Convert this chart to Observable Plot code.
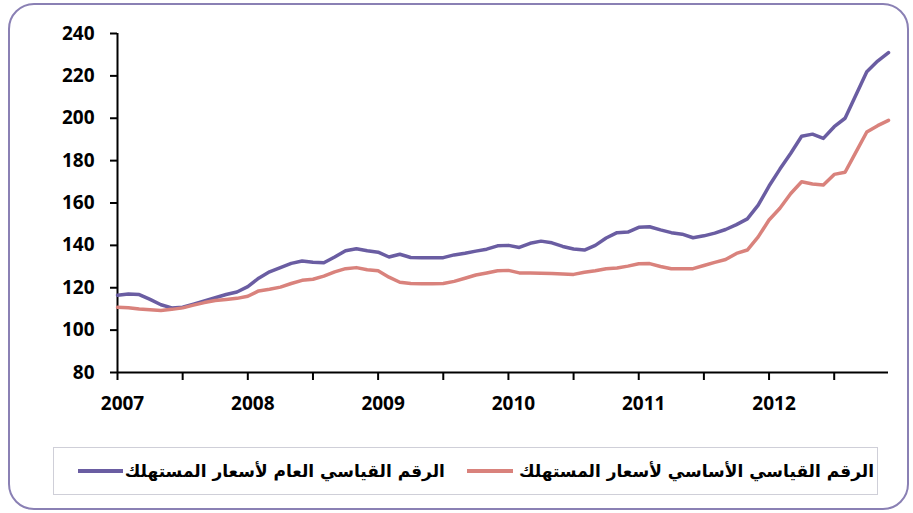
<!DOCTYPE html>
<html>
<head>
<meta charset="utf-8">
<script src="https://cdn.jsdelivr.net/npm/d3@7"></script>
<script src="https://cdn.jsdelivr.net/npm/@observablehq/plot@0.6"></script>
<style>
  html, body { margin: 0; padding: 0; background: #fff; }
  #frame { position: absolute; left: 8px; top: 3px; width: 901px; height: 507px; box-sizing: border-box;
           border: 2.5px solid #8a80b4; border-radius: 26px; }
  #chart { position: absolute; left: 0; top: 0; }
  #legend { position: absolute; left: 53px; top: 447px; width: 825px; height: 48px; box-sizing: border-box;
            border: 1px solid #cfcfd8; display: flex; direction: rtl; align-items: center; padding-right: 3px;
            font-family: "DejaVu Sans", sans-serif; font-weight: bold; font-size: 17px; color: #000; white-space: nowrap; }
  .sw { display: inline-block; height: 4px; }
</style>
</head>
<body>
<div id="frame"></div>
<div id="chart"></div>
<div id="legend"></div>
<script>
const years = ["2007", "2008", "2009", "2010", "2011", "2012"];
const yTicks = [80, 100, 120, 140, 160, 180, 200, 220, 240];
const seriesNames = ["الرقم القياسي الأساسي لأسعار المستهلك", "الرقم القياسي العام لأسعار المستهلك"];
const seriesColors = ["#d9827c", "#6a5da2"];

// General CPI (monthly, Jan 2007 - Dec 2012)
const generalCPI = [
  116.5, 117, 116.8, 114.5, 112, 110.5, 110.8, 112.3, 113.8, 115.3, 116.8, 118,
  120.5, 124.5, 127.5, 129.5, 131.5, 132.6, 132, 131.8, 134.5, 137.5, 138.4, 137.5,
  136.8, 134.5, 135.8, 134.3, 134.2, 134.2, 134.2, 135.5, 136.3, 137.3, 138.2, 139.8,
  140, 139, 141, 142, 141.2, 139.5, 138.3, 137.8, 140, 143.5, 146, 146.3,
  148.5, 148.8, 147.3, 146, 145.3, 143.6, 144.5, 145.8, 147.5, 149.8, 152.5, 159,
  168, 176, 183.5, 191.5, 192.5, 190.5, 196, 200, 211, 222, 227, 231
];
// Core CPI
const coreCPI = [
  110.8, 110.6, 110, 109.6, 109.3, 109.8, 110.5, 111.8, 113, 114, 114.5, 115,
  116, 118.5, 119.3, 120.3, 122, 123.5, 124, 125.5, 127.5, 129, 129.5, 128.5,
  128, 125, 122.6, 122, 121.9, 121.9, 122, 123, 124.5, 126, 127, 128,
  128.2, 127, 127, 126.9, 126.7, 126.5, 126.3, 127.3, 128, 129, 129.3, 130.2,
  131.3, 131.4, 130, 129, 129, 129, 130.5, 132, 133.3, 136.2, 137.8, 144,
  152, 157.5, 164.5, 170, 169, 168.5, 173.5, 174.5, 184, 193.5, 196.5, 199
];

const general = generalCPI.map((v, i) => ({m: i, v}));
const core = coreCPI.map((v, i) => ({m: i, v}));
const xTicks = d3.range(0, 72, 6);

const chart = Plot.plot({
  width: 913,
  height: 430,
  marginLeft: 117,
  marginRight: 25,
  marginTop: 33,
  marginBottom: 58,
  x: {domain: [0, 71], label: null},
  y: {domain: [80, 240], label: null},
  style: {fontFamily: "'Open Sans', sans-serif", fontSize: "19px", fontWeight: "bold", color: "#000", background: "transparent"},
  marks: [
    Plot.axisY({ticks: yTicks, tickSize: 7, tickPadding: 16, strokeWidth: 2, label: null, tickFormat: d => String(d)}),
    Plot.axisX({ticks: xTicks, tickSize: 8, strokeWidth: 2, label: null, tickFormat: () => ""}),
    Plot.axisX({ticks: xTicks.filter(d => d % 12 === 0), tickSize: 0, tickPadding: 24, dx: 5, label: null,
                tickFormat: d => years[d / 12]}),
    Plot.ruleX([0], {stroke: "#000", strokeWidth: 2}),
    Plot.ruleY([80], {stroke: "#000", strokeWidth: 2}),
    Plot.line(general, {x: "m", y: "v", stroke: seriesColors[1], strokeWidth: 3.5, strokeLinejoin: "round", strokeLinecap: "round"}),
    Plot.line(core, {x: "m", y: "v", stroke: seriesColors[0], strokeWidth: 3.5, strokeLinejoin: "round", strokeLinecap: "round"})
  ]
});
document.getElementById("chart").appendChild(chart);

const legend = document.getElementById("legend");
seriesNames.forEach((name, i) => {
  const t = document.createElement("span");
  t.textContent = name;
  legend.appendChild(t);
  const sw = document.createElement("span");
  sw.className = "sw";
  sw.style.background = seriesColors[i];
  sw.style.width = i === 0 ? "46px" : "45px";
  sw.style.marginRight = i === 0 ? "6px" : "2px";
  sw.style.marginLeft = i === 0 ? "22px" : "0px";
  legend.appendChild(sw);
});
</script>
</body>
</html>
